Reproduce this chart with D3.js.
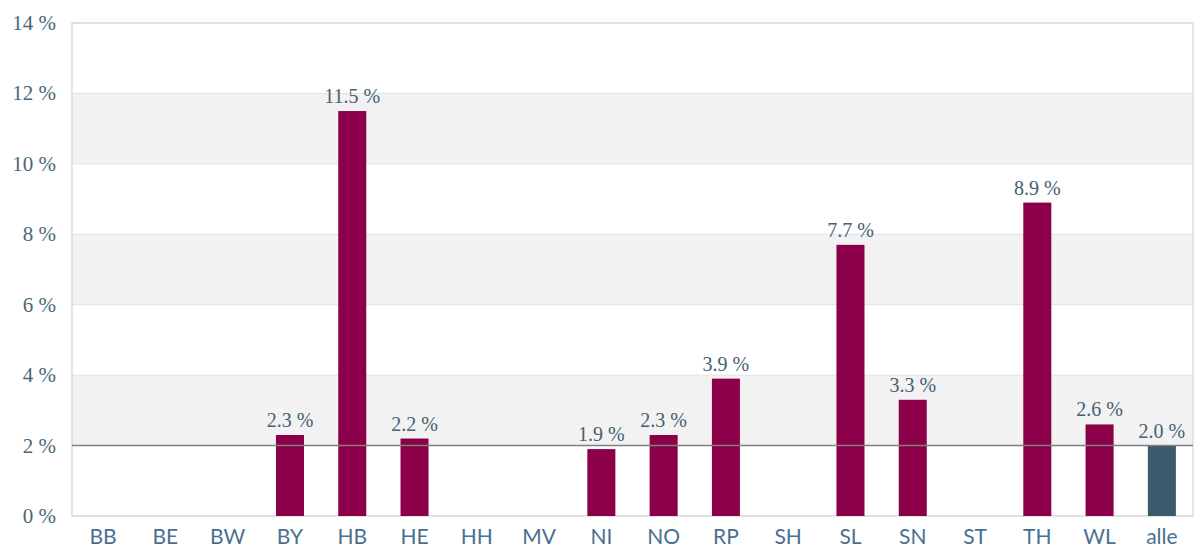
<!DOCTYPE html>
<html>
<head>
<meta charset="utf-8">
<script src="https://cdn.jsdelivr.net/npm/d3@7"></script>
<style>
  body { margin: 0; background: #fff; }
</style>
</head>
<body>
<div id="chart"></div>
<script>
const categories = ['BB', 'BE', 'BW', 'BY', 'HB', 'HE', 'HH', 'MV', 'NI', 'NO', 'RP', 'SH', 'SL', 'SN', 'ST', 'TH', 'WL', 'alle'];
const values = [0, 0, 0, 2.3, 11.5, 2.2, 0, 0, 1.9, 2.3, 3.9, 0, 7.7, 3.3, 0, 8.9, 2.6, 2.0];
const yTicks = [0, 2, 4, 6, 8, 10, 12, 14];
const refValue = 2.0;

const width = 1200, height = 549;
const margin = { top: 23, right: 7, bottom: 33, left: 72 };
const innerW = width - margin.left - margin.right;
const innerH = height - margin.top - margin.bottom;

const data = categories.map((c, i) => ({ cat: c, value: values[i] }));

const svg = d3.select('#chart').append('svg')
    .attr('width', width)
    .attr('height', height);

const g = svg.append('g').attr('transform', `translate(${margin.left}, ${margin.top})`);

const x = d3.scaleBand().domain(categories).range([0, innerW]).paddingInner(0.55).paddingOuter(0.275);
const y = d3.scaleLinear().domain([0, 14]).range([innerH, 0]);

// alternating bands
const bands = d3.pairs(yTicks).filter((d, i) => i % 2 === 1);
g.selectAll('.band').data(bands).enter().append('rect')
    .attr('x', 0)
    .attr('width', innerW)
    .attr('y', (d) => y(d[1]))
    .attr('height', (d) => y(d[0]) - y(d[1]))
    .attr('fill', '#f2f2f2');

g.selectAll('.grid').data(yTicks).enter().append('line')
    .attr('x1', 0).attr('x2', innerW)
    .attr('y1', (d) => y(d)).attr('y2', (d) => y(d))
    .attr('stroke', '#e2e2e2').attr('stroke-width', 1);

g.append('rect')
    .attr('width', innerW).attr('height', innerH)
    .attr('fill', 'none').attr('stroke', '#dcdcdc').attr('stroke-width', 1.5);

// bars
g.selectAll('.bar').data(data).enter().append('rect')
    .attr('x', (d) => x(d.cat))
    .attr('width', x.bandwidth())
    .attr('y', (d) => y(d.value))
    .attr('height', (d) => y(0) - y(d.value))
    .attr('fill', (d) => d.cat === 'alle' ? '#3b5a6b' : '#8b0048');

// reference line
g.append('line')
    .attr('x1', 0).attr('x2', innerW)
    .attr('y1', y(refValue)).attr('y2', y(refValue))
    .attr('stroke', '#808080').attr('stroke-width', 1.5);

// value labels
g.selectAll('.lbl').data(data.filter((d) => d.value > 0)).enter().append('text')
    .attr('x', (d) => x(d.cat) + x.bandwidth() / 2)
    .attr('y', (d) => y(d.value) - 8)
    .attr('text-anchor', 'middle')
    .attr('font-family', '"Liberation Serif", "DejaVu Serif", serif')
    .attr('font-size', 20)
    .attr('fill', '#45616f')
    .text((d) => d.value.toFixed(1) + ' %');

// y axis labels
g.selectAll('.ytick').data(yTicks).enter().append('text')
    .attr('x', -16)
    .attr('y', (d) => y(d) + 7)
    .attr('text-anchor', 'end')
    .attr('font-family', '"Liberation Serif", "DejaVu Serif", serif')
    .attr('font-size', 21)
    .attr('fill', '#4a6878')
    .text((d) => d + ' %');

// x axis labels
g.selectAll('.xtick').data(categories).enter().append('text')
    .attr('x', (d) => x(d) + x.bandwidth() / 2)
    .attr('y', innerH + 28)
    .attr('text-anchor', 'middle')
    .attr('font-family', 'Lato, "Open Sans", sans-serif')
    .attr('font-size', 21)
    .attr('fill', '#4a7090')
    .text((d) => d);
</script>
</body>
</html>
